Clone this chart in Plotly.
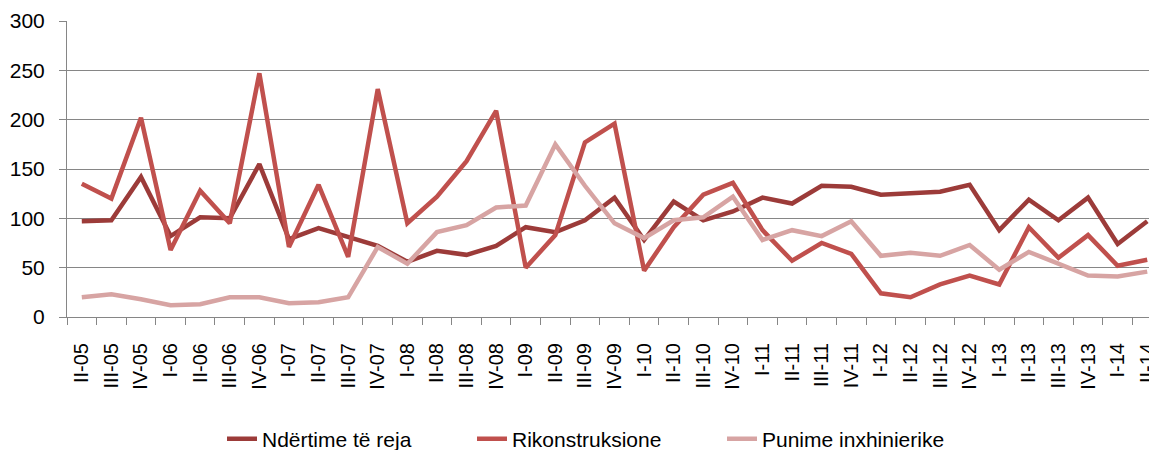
import plotly.graph_objects as go

quarters = ["II-05", "III-05", "IV-05", "I-06", "II-06", "III-06", "IV-06", "I-07", "II-07", "III-07",
            "IV-07", "I-08", "II-08", "III-08", "IV-08", "I-09", "II-09", "III-09", "IV-09", "I-10",
            "II-10", "III-10", "IV-10", "I-11", "II-11", "III-11", "IV-11", "I-12", "II-12", "III-12",
            "IV-12", "I-13", "II-13", "III-13", "IV-13", "I-14", "II-14"]

ndertime = [97, 98, 142, 82, 101, 100, 155, 79, 90, 81,
            72, 56, 67, 63, 72, 91, 86, 98, 121, 78,
            117, 98, 107, 121, 115, 133, 132, 124, 125, 127,
            134, 88, 119, 98, 121, 74, 97]

rikonstruksione = [135, 120, 202, 68, 128, 95, 247, 71, 134, 61,
                   231, 95, 122, 158, 209, 50, 83, 177, 196, 47,
                   91, 124, 136, 88, 57, 75, 64, 24, 20, 33,
                   42, 33, 91, 60, 83, 52, 58]

punime = [20, 23, 18, 12, 13, 20, 20, 14, 15, 20,
          71, 54, 86, 93, 111, 113, 175, 133, 95, 80,
          98, 101, 122, 78, 88, 82, 97, 62, 65, 62,
          73, 48, 66, 54, 42, 41, 46]

series_names = ["Ndërtime të reja", "Rikonstruksione", "Punime inxhinierike"]
series_colors = ["#9C3B39", "#C0504D", "#D7A4A3"]

fig = go.Figure()
for name, vals, col in zip(series_names, [ndertime, rikonstruksione, punime], series_colors):
    fig.add_trace(go.Scatter(x=quarters, y=vals, name=name, mode="lines",
                             line=dict(color=col, width=4.5)))

# page body has an 8px margin, so the figure is sized 8px smaller and shifted
W, H = 1149, 442
font_family = "Liberation Sans, Arial, sans-serif"
fig.update_layout(
    width=W, height=H,
    margin=dict(l=59, r=0, t=13, b=133, autoexpand=False),
    paper_bgcolor="white", plot_bgcolor="white",
    font=dict(family=font_family, size=21, color="black"),
    showlegend=True,
    legend=dict(orientation="h", x=214 / W, xanchor="left", xref="container",
                y=1 - 431 / H, yanchor="middle", yref="container",
                font=dict(size=21), entrywidth=205, traceorder="normal",
                bgcolor="rgba(0,0,0,0)"),
)
fig.update_xaxes(type="category", range=[-0.5, 36.33], tickson="boundaries", automargin=False,
                 showgrid=False, showline=True, linecolor="#868686", linewidth=1,
                 ticks="outside", ticklen=7, tickcolor="#868686", tickangle=-90,
                 tickfont=dict(size=20), ticklabelstandoff=17)
fig.update_yaxes(range=[0, 300], tickvals=[0, 50, 100, 150, 200, 250, 300], automargin=False,
                 showgrid=True, gridcolor="#868686", gridwidth=1,
                 showline=True, linecolor="#868686", linewidth=1, zeroline=False,
                 ticks="outside", ticklen=7, tickcolor="#868686",
                 tickfont=dict(size=21), ticklabelstandoff=10)

fig.write_html("out.html")
